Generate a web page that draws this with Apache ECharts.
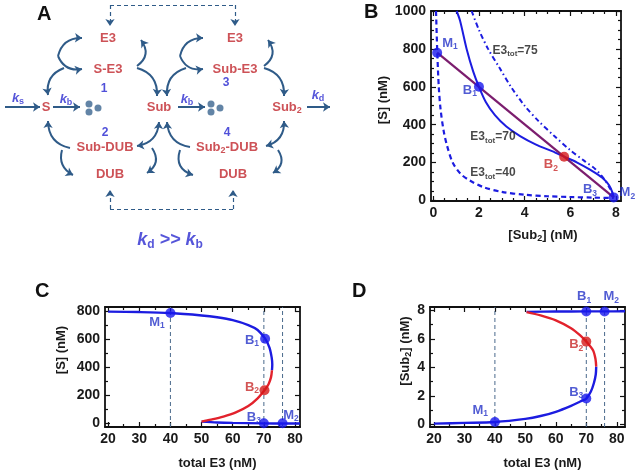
<!DOCTYPE html>
<html><head><meta charset="utf-8">
<script src="https://cdn.jsdelivr.net/npm/echarts@6/dist/echarts.min.js"></script>
<style>html,body{margin:0;padding:0;background:#fff}#c{width:644px;height:473px}</style>
</head><body><div id="c"></div>
<script>
// ---------- Panel A (reaction scheme) ----------
const diagramNodes = [
  ['E3',108,38],['S-E3',108,69],['S',46,107],['Sub',159,107],['Sub{r|2}',287,107],
  ['Sub-DUB',105,147],['DUB',110,174],['E3',235,38],['Sub-E3',235,69],['Sub{r|2}-DUB',227,147],['DUB',233,174]
];
const diagramNumbers = [['1',104,89],['2',105,133],['3',226,83],['4',227,133]];
const rateLabels = [['k{s|s}',18,98],['k{s|b}',66,99],['k{s|b}',187,99],['k{s|d}',318,95]];
const degradedDots = [[89,104],[89,112],[98,108],[211,104],[211,112],[220,108]];
const arrowsOneWay = [
  [5,107,40,107,0],[53,107,80,107,0],[178,107,205,107,0],[307,107,330,107,0],
  [58,56,82,38,0.4],[58,56,82,69,-0.4],[64,68,48,95,-0.4],
  [137,66,141,40,-0.5],[137,68,157,96,0.4],
  [180,56,203,38,0.4],[180,56,203,69,-0.4],[186,68,167,96,-0.4],
  [264,66,268,40,-0.5],[264,68,284,96,0.4],
  [70,148,48,121,0.4],[62,150,73,175,-0.4],
  [152,148,147,173,0.5],
  [190,147,167,122,0.4],[180,150,193,175,-0.5],
  [278,150,273,173,0.5]
];
const arrowsTwoWay = [[159,122,137,146,0.4],[284,121,266,146,0.4]];
const dashedArrows = [[110,5,110,26],[235,5,235,26],[110,209,110,190],[233,209,233,190]];
const dashedLinks = [[110,5,235,5],[110,209,233,209]];

// ---------- Panel B ----------
const bE3tot70 = [[1.02,1000],[1.17,950],[1.46,800],[1.75,680],[2.0,600],[2.3,520],[2.7,450],[3.2,390],[3.8,340],[4.5,295],[5.2,260],[5.73,231],[6.3,200],[6.9,160],[7.4,120],[7.7,80],[7.85,40],[7.9,16]];
const bE3tot40 = [[0.12,1000],[0.17,800],[0.24,600],[0.32,480],[0.45,370],[0.6,290],[0.85,200],[1.2,140],[1.6,105],[2.2,70],[3,45],[4,30],[5,22],[6,18],[7,15],[7.9,13]];
const bE3tot75 = [[1.68,1000],[2.0,900],[2.4,800],[2.9,700],[3.4,600],[4.0,500],[4.6,420],[5.3,340],[6.0,265],[6.6,210],[7.1,165],[7.5,110],[7.75,60],[7.9,20]];
const bLine = [[0.17,780],[7.9,16]];
const bBluePts = [[0.17,780],[2.0,600],[7.9,16]];
const bRedPts = [[5.73,231]];
const bPtLabels = [['M','1',0.73,830],['B','1',1.6,583],['B','2',5.15,188],['B','3',6.86,56],['M','2',8.5,40]];
const bCurveLabels = [['75',2.57,793],['70',1.6,335],['40',1.6,145]];

// ---------- Panel C ----------
const cUpperBlue = [[20,795],[30,792],[40,785],[50,768],[55,755],[60,735],[65,700],[68,665],[70.4,603],[71.8,540],[72.5,470],[72.7,420],[72.6,379]];
const cRed = [[72.6,379],[72.3,330],[71.5,280],[70.2,237],[68,180],[65,125],[61,80],[57,50],[53,28],[50,14]];
const cLowerBlue = [[50,14],[55,8],[60,5],[70,2],[76,1],[81.6,1]];
const cBluePts = [[40,785],[70.4,603],[70,2],[76,2]];
const cRedPts = [[70.2,237]];
const cPtLabels = [['M','1',35.7,718],['B','1',66.2,592],['B','2',66.2,258],['B','3',66.8,45],['M','2',78.7,59]];

// ---------- Panel D ----------
const dLowerBlue = [[20,0.05],[30,0.1],[40,0.16],[50,0.38],[55,0.58],[60,0.88],[65,1.3],[68,1.6],[70,1.81],[71.5,2.3],[72.5,2.9],[73.1,3.5],[73.25,4.05]];
const dRed = [[73.25,4.05],[73.0,4.6],[72.2,5.2],[70,5.81],[68,6.25],[65,6.75],[60,7.3],[55,7.65],[50.4,7.88]];
const dUpperBlue = [[50.4,7.9],[60,7.92],[70,7.93],[76,7.93],[82.7,7.94]];
const dBluePts = [[40,0.16],[70,7.93],[70,1.81],[76,7.93]];
const dRedPts = [[70,5.81]];
const dPtLabels = [['M','1',35.2,0.99],['B','1',69.3,8.96],['M','2',78.2,8.96],['B','2',66.7,5.58],['B','3',66.7,2.26]];

const markerE3 = [40,70,76];
const ticksB_x = [0,2,4,6,8], ticksB_y = [0,200,400,600,800,1000];
const ticksCD_x = [20,30,40,50,60,70,80], ticksC_y = [0,200,400,600,800], ticksD_y = [0,2,4,6,8];

// ---------- styling ----------
const FONT = 'Liberation Sans';
const BLUE = '#1c1ce0', RED = '#e2222c', PURPLE = '#7b1d6e';
const LBLUE = '#2633c8', LRED = '#c82a2a', DRED = '#c1272d', ARROW = '#2f5b88';
const grids = [], xAxes = [], yAxes = [], series = [];

grids.push({left:0, top:0, width:330, height:250});
xAxes.push({type:'value', gridIndex:0, min:0, max:330, show:false});
yAxes.push({type:'value', gridIndex:0, min:0, max:250, inverse:true, show:false});

function range(a,b,s,skip){const r=[];for(let v=a;v<=b+1e-9;v+=s){const vv=+v.toFixed(4);if(!skip.some(k=>Math.abs(k-vv)<1e-9))r.push(vv);}return r;}

const subRich = (size,color)=>({fontSize:size, lineHeight:size, verticalAlign:'bottom', fontWeight:'bold', color, fontFamily:FONT});

function frame(gi, box, xr, yr, xMaj, xMin, yMaj, yMin, xName, yName, o){
  grids.push(box);
  const line = {show:true, onZero:false, lineStyle:{color:'#111', width:1.8}};
  const noLine = {show:false, onZero:false};
  const lab = {color:'#1a1a1a', fontSize:14, fontWeight:'bold', fontFamily:FONT, formatter:v=>String(v)};
  const tk = (vals,len)=>({show:true, inside:true, length:len, customValues:vals, lineStyle:{color:'#111', width:1.2}});
  const nameStyle = (pad)=>({color:'#1a1a1a', fontSize:13, fontWeight:'bold', fontFamily:FONT, lineHeight:16, padding:pad, rich:{s:subRich(9,'#1a1a1a')}});
  const xb = {type:'value', gridIndex:gi, min:xr[0], max:xr[1], splitLine:{show:false}};
  const yb = {type:'value', gridIndex:gi, min:yr[0], max:yr[1], splitLine:{show:false}};
  const xi = xAxes.length, yi = yAxes.length;
  xAxes.push({...xb, position:'bottom', axisLine:line, axisTick:tk(xMaj,5), axisLabel:{...lab, customValues:xMaj, margin:5},
    name:xName, nameLocation:'middle', nameGap:o.xGap, nameTextStyle:nameStyle(o.xPad)});
  xAxes.push({...xb, position:'top', axisLine:line, axisTick:tk(xMaj,5), axisLabel:{show:false}});
  xAxes.push({...xb, position:'bottom', axisLine:noLine, axisTick:tk(xMin,3), axisLabel:{show:false}});
  xAxes.push({...xb, position:'top', axisLine:noLine, axisTick:tk(xMin,3), axisLabel:{show:false}});
  yAxes.push({...yb, position:'left', axisLine:line, axisTick:tk(yMaj,5), axisLabel:{...lab, customValues:yMaj, margin:5},
    name:yName, nameLocation:'middle', nameGap:o.yGap, nameTextStyle:nameStyle(o.yPad)});
  yAxes.push({...yb, position:'right', axisLine:line, axisTick:tk(yMaj,5), axisLabel:{show:false}});
  yAxes.push({...yb, position:'left', axisLine:noLine, axisTick:tk(yMin,3), axisLabel:{show:false}});
  yAxes.push({...yb, position:'right', axisLine:noLine, axisTick:tk(yMin,3), axisLabel:{show:false}});
  return {xAxisIndex:xi, yAxisIndex:yi};
}

const B = frame(1, {left:431, top:11, width:190, height:190}, [-0.1,8.22], [-3,1000],
  ticksB_x, range(0,8,0.5,ticksB_x), ticksB_y, range(0,1000,50,ticksB_y),
  '[Sub{s|2}] (nM)', '[S] (nM)', {xGap:26, xPad:[0,0,0,34], yGap:36, yPad:[0,0,0,12]});
const C = frame(2, {left:105, top:307, width:195, height:120}, [19,81.6], [-24,828],
  ticksCD_x, range(20,80,5,ticksCD_x), ticksC_y, range(0,800,100,ticksC_y),
  'total E3 (nM)', '[S] (nM)', {xGap:28, xPad:[0,0,0,30], yGap:36, yPad:[0,0,0,34]});
const D = frame(3, {left:430, top:307, width:195, height:120}, [18.7,82.7], [-0.19,8.24],
  ticksCD_x, range(20,80,5,ticksCD_x), ticksD_y, range(0,8,1,ticksD_y),
  'total E3 (nM)', '[Sub{s|2}] (nM)', {xGap:28, xPad:[0,0,0,30], yGap:16, yPad:[0,0,0,32]});

// ---------- Panel A series ----------
const A = {xAxisIndex:0, yAxisIndex:0};
const arrowLine = {color:ARROW, width:2, opacity:1};
series.push({type:'lines', ...A, coordinateSystem:'cartesian2d', symbol:['none','arrow'], symbolSize:7, lineStyle:arrowLine,
  data: arrowsOneWay.map(a=>({coords:[[a[0],a[1]],[a[2],a[3]]], lineStyle:{curveness:a[4]}}))});
series.push({type:'lines', ...A, coordinateSystem:'cartesian2d', symbol:['arrow','arrow'], symbolSize:7, lineStyle:arrowLine,
  data: arrowsTwoWay.map(a=>({coords:[[a[0],a[1]],[a[2],a[3]]], lineStyle:{curveness:a[4]}}))});
series.push({type:'lines', ...A, coordinateSystem:'cartesian2d', symbol:['none','arrow'], symbolSize:7,
  lineStyle:{color:ARROW, width:1.2, type:[4,3], opacity:1},
  data: dashedArrows.map(a=>({coords:[[a[0],a[1]],[a[2],a[3]]]}))});
series.push({type:'lines', ...A, coordinateSystem:'cartesian2d', symbol:'none',
  lineStyle:{color:ARROW, width:1.2, type:[4,3], opacity:1},
  data: dashedLinks.map(a=>({coords:[[a[0],a[1]],[a[2],a[3]]]}))});
series.push({type:'scatter', ...A, symbolSize:7, itemStyle:{color:'#3b6590'}, data:degradedDots, silent:true});

function textSeries(axes, items, style, rich){
  return {type:'scatter', ...axes, symbolSize:1, clip:false, silent:true, itemStyle:{color:'rgba(0,0,0,0)'},
    label:{show:true, position:'inside', formatter:p=>p.data.t, ...style, rich:rich||{}},
    data: items.map(n=>({value:[n[1],n[2]], t:n[0]}))};
}
series.push(textSeries(A, diagramNodes, {color:DRED, fontSize:13, fontWeight:'bold', fontFamily:FONT, lineHeight:17}, {r:subRich(9,DRED)}));
series.push(textSeries(A, diagramNumbers, {color:'#2424d0', fontSize:12, fontWeight:'bold', fontFamily:FONT}));
series.push(textSeries(A, rateLabels, {color:'#2b2bd0', fontSize:13, fontWeight:'bold', fontStyle:'italic', fontFamily:FONT, lineHeight:17},
  {s:{...subRich(9,'#2b2bd0'), fontStyle:'normal'}}));
series.push(textSeries(A, [['k{s|d} >> k{s|b}',170,240]], {color:'#2b2bd0', fontSize:18, fontWeight:'bold', fontStyle:'italic', fontFamily:FONT, lineHeight:22},
  {s:{...subRich(12,'#2b2bd0'), fontStyle:'normal'}}));

// ---------- curve helpers ----------
function curve(axes, data, color, width, type, smooth){
  return {type:'line', ...axes, data, showSymbol:false, symbol:'none', smooth:smooth===undefined?0.3:smooth, silent:true,
    lineStyle:{color, width, type:type||'solid'}, z:3};
}
function vlines(axes, xs, yr, color){
  return xs.map(x=>({type:'line', ...axes, data:[[x,yr[0]],[x,yr[1]]], showSymbol:false, symbol:'none', silent:true,
    lineStyle:{color, width:1, type:[4,3]}, z:2}));
}
function dots(axes, data, color){
  return {type:'scatter', ...axes, data, symbolSize:10, itemStyle:{color}, clip:false, silent:true, z:5};
}
function ptLabels(axes, items, redName){
  return {type:'scatter', ...axes, symbolSize:1, clip:false, silent:true, itemStyle:{color:'rgba(0,0,0,0)'}, z:6,
    label:{show:true, position:'inside', fontFamily:FONT, fontSize:13, fontWeight:'bold', lineHeight:16,
      formatter:p=>p.data.red ? `{rl|${p.data.l}}{rs|${p.data.s}}` : `{bl|${p.data.l}}{bs|${p.data.s}}`,
      rich:{bl:{color:LBLUE, fontSize:13, fontWeight:'bold', fontFamily:FONT, lineHeight:16},
            bs:subRich(8.5,LBLUE),
            rl:{color:LRED, fontSize:13, fontWeight:'bold', fontFamily:FONT, lineHeight:16},
            rs:subRich(8.5,LRED)}},
    data: items.map(n=>({value:[n[2],n[3]], l:n[0], s:n[1], red:(n[0]+n[1])===redName}))};
}

// ---------- Panel B series ----------
series.push(curve(B, bE3tot40, BLUE, 2.2, [5,3.5]));
series.push(curve(B, bE3tot75, BLUE, 2, [5,3,1.5,3]));
series.push(curve(B, bE3tot70, BLUE, 2));
series.push(curve(B, bLine, PURPLE, 2.2, 'solid', false));
series.push(dots(B, bBluePts, '#1818ee'));
series.push(dots(B, bRedPts, '#d41818'));
series.push(ptLabels(B, bPtLabels, 'B2'));
series.push({type:'scatter', ...B, symbolSize:1, clip:false, silent:true, itemStyle:{color:'rgba(0,0,0,0)'}, z:6,
  label:{show:true, position:'right', distance:0, formatter:p=>`E3{s|tot}=${p.data.t}`, color:'#1a1a1a', fontSize:12, fontWeight:'bold', fontFamily:FONT, lineHeight:15,
    rich:{s:subRich(8,'#1a1a1a')}},
  data: bCurveLabels.map(n=>({value:[n[1],n[2]], t:n[0]}))});

// ---------- Panel C series ----------
vlines(C, markerE3, [-24,828], '#4a6a8c').forEach(s=>series.push(s));
series.push(curve(C, cUpperBlue, BLUE, 2.4));
series.push(curve(C, cLowerBlue, BLUE, 2.4));
series.push(curve(C, cRed, RED, 2.4));
series.push(dots(C, cBluePts, '#1818ee'));
series.push(dots(C, cRedPts, '#d41818'));
series.push(ptLabels(C, cPtLabels, 'B2'));

// ---------- Panel D series ----------
vlines(D, markerE3, [-0.19,8.24], '#4a6a8c').forEach(s=>series.push(s));
series.push(curve(D, dUpperBlue, BLUE, 2.4));
series.push(curve(D, dLowerBlue, BLUE, 2.4));
series.push(curve(D, dRed, RED, 2.4));
series.push(dots(D, dBluePts, '#1818ee'));
series.push(dots(D, dRedPts, '#d41818'));
series.push(ptLabels(D, dPtLabels, 'B2'));

const letter = (t,l,tp)=>({text:t, left:l, top:tp, padding:0, textStyle:{fontSize:20, fontWeight:'bold', color:'#111', fontFamily:FONT}});

const chart = echarts.init(document.getElementById('c'), null, {renderer:'canvas'});
chart.setOption({
  animation:false,
  backgroundColor:'#ffffff',
  textStyle:{fontFamily:FONT},
  title:[letter('A',37,4), letter('B',364,2), letter('C',35,281), letter('D',352,281)],
  grid:grids, xAxis:xAxes, yAxis:yAxes, series
});
</script></body></html>
